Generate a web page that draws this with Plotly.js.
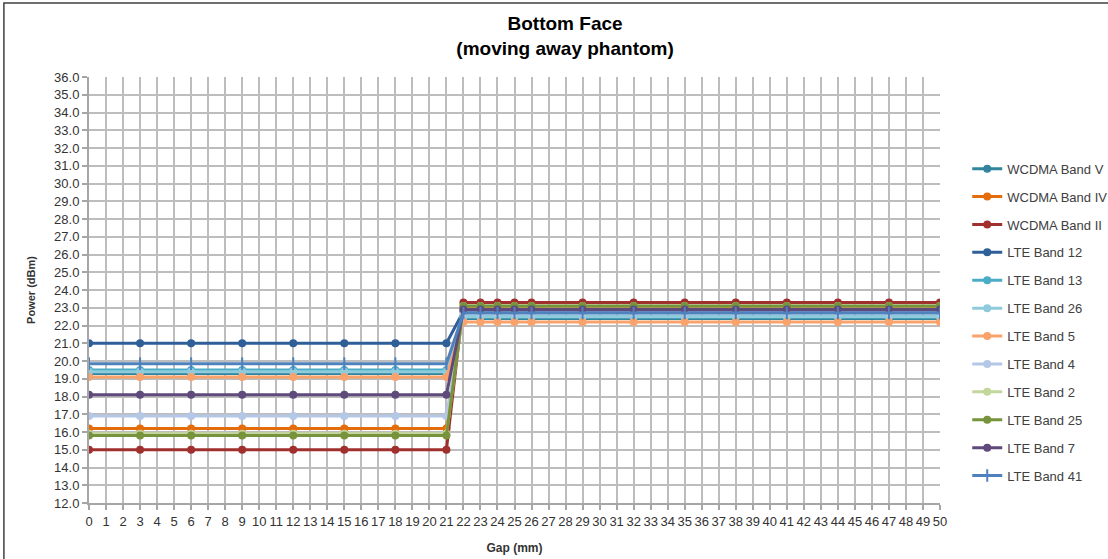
<!DOCTYPE html>
<html>
<head>
<meta charset="utf-8">
<script src="https://cdn.plot.ly/plotly-3.0.1.min.js"></script>
<style>html,body{margin:0;padding:0;background:#fff;}#chart{width:1108px;height:559px;}</style>
</head>
<body>
<div id="chart"></div>
<script>
var gap = [0, 3, 6, 9, 12, 15, 18, 21, 22, 23, 24, 25, 26, 29, 32, 35, 38, 41, 44, 47, 50];

var seriesNames = ["WCDMA Band V", "WCDMA Band IV", "WCDMA Band II", "LTE Band 12", "LTE Band 13", "LTE Band 26", "LTE Band 5", "LTE Band 4", "LTE Band 2", "LTE Band 25", "LTE Band 7", "LTE Band 41"];

var wcdmaV  = [19.3,19.3,19.3,19.3,19.3,19.3,19.3,19.3, 22.4,22.4,22.4,22.4,22.4,22.4,22.4,22.4,22.4,22.4,22.4,22.4,22.4];
var wcdmaIV = [16.2,16.2,16.2,16.2,16.2,16.2,16.2,16.2, 23.0,23.0,23.0,23.0,23.0,23.0,23.0,23.0,23.0,23.0,23.0,23.0,23.0];
var wcdmaII = [15.0,15.0,15.0,15.0,15.0,15.0,15.0,15.0, 23.3,23.3,23.3,23.3,23.3,23.3,23.3,23.3,23.3,23.3,23.3,23.3,23.3];
var lte12   = [21.0,21.0,21.0,21.0,21.0,21.0,21.0,21.0, 22.8,22.8,22.8,22.8,22.8,22.8,22.8,22.8,22.8,22.8,22.8,22.8,22.8];
var lte13   = [19.5,19.5,19.5,19.5,19.5,19.5,19.5,19.5, 22.5,22.5,22.5,22.5,22.5,22.5,22.5,22.5,22.5,22.5,22.5,22.5,22.5];
var lte26   = [19.4,19.4,19.4,19.4,19.4,19.4,19.4,19.4, 22.5,22.5,22.5,22.5,22.5,22.5,22.5,22.5,22.5,22.5,22.5,22.5,22.5];
var lte5    = [19.1,19.1,19.1,19.1,19.1,19.1,19.1,19.1, 22.2,22.2,22.2,22.2,22.2,22.2,22.2,22.2,22.2,22.2,22.2,22.2,22.2];
var lte4    = [16.9,16.9,16.9,16.9,16.9,16.9,16.9,16.9, 22.7,22.7,22.7,22.7,22.7,22.7,22.7,22.7,22.7,22.7,22.7,22.7,22.7];
var lte2    = [15.9,15.9,15.9,15.9,15.9,15.9,15.9,15.9, 23.1,23.1,23.1,23.1,23.1,23.1,23.1,23.1,23.1,23.1,23.1,23.1,23.1];
var lte25   = [15.8,15.8,15.8,15.8,15.8,15.8,15.8,15.8, 23.1,23.1,23.1,23.1,23.1,23.1,23.1,23.1,23.1,23.1,23.1,23.1,23.1];
var lte7    = [18.1,18.1,18.1,18.1,18.1,18.1,18.1,18.1, 22.9,22.9,22.9,22.9,22.9,22.9,22.9,22.9,22.9,22.9,22.9,22.9,22.9];
var lte41   = [19.85,19.85,19.85,19.85,19.85,19.85,19.85,19.85, 22.7,22.7,22.7,22.7,22.7,22.7,22.7,22.7,22.7,22.7,22.7,22.7,22.7];

var seriesValues = [wcdmaV, wcdmaIV, wcdmaII, lte12, lte13, lte26, lte5, lte4, lte2, lte25, lte7, lte41];
var colors = ["#31859C", "#E46C0A", "#A0302E", "#2F5F98", "#4BACC6", "#8FCBDC", "#F9A26C", "#B4C7E7", "#C3D69B", "#77933C", "#604A7B", "#4F81BD"];
var symbols = ["circle","circle","circle","circle","circle","circle","circle","circle","circle","circle","circle","line-ns-open"];

var yTicks = [];
for (var v = 12; v <= 36; v++) yTicks.push(v);

var traces = seriesNames.map(function (name, i) {
  return {
    type: "scatter",
    mode: "lines+markers",
    name: name,
    x: gap,
    y: seriesValues[i],
    legendgroup: "g" + i,
    line: {color: colors[i], width: 3},
    marker: {color: colors[i], size: symbols[i] === "circle" ? 8 : 9, symbol: symbols[i], line: {color: colors[i], width: symbols[i] === "circle" ? 0 : 2}}
  };
});

var layout = {
  width: 1108, height: 559,
  margin: {l: 89, r: 168, t: 77, b: 56, autoexpand: false},
  paper_bgcolor: "#fff", plot_bgcolor: "#fff",
  font: {family: "Liberation Sans, Arial, sans-serif", color: "#404040"},
  title: {
    text: "<b>Bottom Face<br>(moving away phantom)</b>",
    font: {family: "Liberation Sans, Arial, sans-serif", size: 19, color: "#000"},
    x: 0.51, xanchor: "center", yref: "container", y: 0.946, yanchor: "middle"
  },
  xaxis: {
    range: [0, 50], dtick: 1, tick0: 0,
    showgrid: true, gridcolor: "#BDBDBD", gridwidth: 2,
    zeroline: false, showline: true, linecolor: "#A6A6A6", linewidth: 2,
    ticks: "outside", ticklen: 5, tickcolor: "#A6A6A6", tickwidth: 2,
    tickfont: {size: 13, color: "#333"},
    title: {text: "<b>Gap (mm)</b>", font: {size: 12, color: "#333"}, standoff: 16}
  },
  yaxis: {
    range: [12, 36], tickvals: yTicks, ticktext: yTicks.map(function (t) { return t.toFixed(1); }),
    showgrid: true, gridcolor: "#BDBDBD", gridwidth: 2,
    zeroline: false, showline: true, linecolor: "#A6A6A6", linewidth: 2,
    ticks: "outside", ticklen: 5, tickcolor: "#A6A6A6", tickwidth: 2,
    tickfont: {size: 13, color: "#333"},
    title: {text: "<b>Power (dBm)</b>", font: {size: 11, color: "#333"}, standoff: 16}
  },
  legend: {
    x: 1.032, xanchor: "left", y: 0.82, yanchor: "top",
    font: {size: 13, color: "#404040"},
    traceorder: "grouped", tracegroupgap: 8,
    itemwidth: 30, bgcolor: "rgba(0,0,0,0)"
  },
  shapes: [{
    type: "rect", xref: "paper", yref: "paper",
    x0: -0.1, x1: 1.3, y0: -0.3, y1: 1.174,
    line: {color: "#404040", width: 1.5}, fillcolor: "rgba(0,0,0,0)", layer: "below"
  }]
};

Plotly.newPlot("chart", traces, layout, {displayModeBar: false, staticPlot: true});
</script>
</body>
</html>
